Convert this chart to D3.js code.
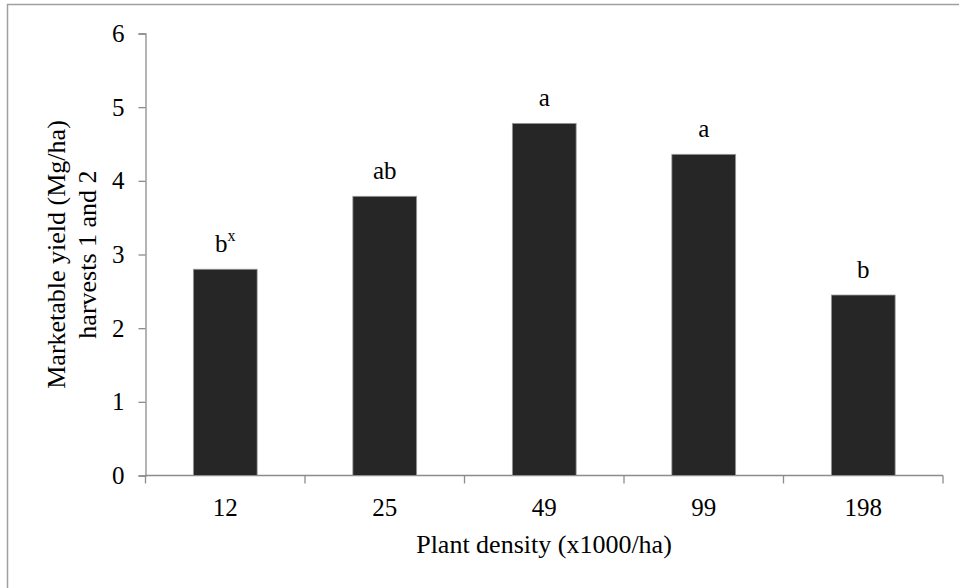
<!DOCTYPE html>
<html>
<head>
<meta charset="utf-8">
<script src="https://cdn.jsdelivr.net/npm/d3@7/dist/d3.min.js"></script>
<style>
  html, body { margin: 0; padding: 0; background: #fff; }
  svg { display: block; }
  text { font-family: "Liberation Serif", "Times New Roman", serif; fill: #000; }
</style>
</head>
<body>
<svg id="chart" width="959" height="588"></svg>
<script>
// Plant density treatments (x1000 plants/ha)
const densities = ["12", "25", "49", "99", "198"];
// Marketable yield, harvests 1 and 2 (Mg/ha)
const yields = [2.80, 3.79, 4.78, 4.36, 2.45];
// Mean separation letters
const letters = ["b", "ab", "a", "a", "b"];
const letterSup = ["x", "", "", "", ""];
const yTicks = [0, 1, 2, 3, 4, 5, 6];

const svg = d3.select("#chart");
const tickFont = 25;
const titleFont = 26;
const axisColor = "#8c8c8c";

// outer frame
svg.append("rect")
  .attr("x", 7.5).attr("y", 4.5)
  .attr("width", 1000).attr("height", 1000)
  .attr("fill", "none").attr("stroke", "#a0a0a0").attr("stroke-width", 1.5);

const x = d3.scaleBand()
  .domain(densities)
  .range([145.5, 943])
  .paddingInner(0.6)
  .paddingOuter(0.3);

const y = d3.scaleLinear().domain([0, 6]).range([475.5, 33.5]);

// y axis
const yAxis = svg.append("g")
  .attr("transform", "translate(145.5,0)")
  .call(d3.axisLeft(y).tickValues(yTicks).tickFormat(d3.format("d")).tickSize(7).tickPadding(14));
yAxis.select(".domain").attr("stroke", axisColor).attr("stroke-width", 1.3);
yAxis.selectAll(".tick line").attr("stroke", axisColor).attr("stroke-width", 1.3);
yAxis.selectAll(".tick text")
  .attr("font-size", tickFont)
  .attr("font-family", "Liberation Serif")
  .attr("fill", "#000");

// x axis with ticks at category boundaries
const xAxisG = svg.append("g").attr("transform", "translate(0,475.5)");
xAxisG.append("line")
  .attr("x1", x.range()[0]).attr("x2", x.range()[1])
  .attr("stroke", axisColor).attr("stroke-width", 1.3);
const step = x.step();
const bounds = d3.range(densities.length + 1).map(i => x(densities[0]) - x.paddingOuter() * step + i * step);
xAxisG.selectAll("line.tk")
  .data(bounds).join("line").attr("class", "tk")
  .attr("x1", d => d).attr("x2", d => d)
  .attr("y1", 0).attr("y2", 8)
  .attr("stroke", axisColor).attr("stroke-width", 1.3);
xAxisG.selectAll("text.lbl")
  .data(densities).join("text").attr("class", "lbl")
  .attr("x", d => x(d) + x.bandwidth() / 2)
  .attr("y", 40)
  .attr("text-anchor", "middle")
  .attr("font-size", tickFont)
  .text(d => d);

// bars
svg.append("g").selectAll("rect")
  .data(densities).join("rect")
  .attr("x", d => x(d))
  .attr("y", (d, i) => y(yields[i]))
  .attr("width", x.bandwidth())
  .attr("height", (d, i) => y(0) - y(yields[i]))
  .attr("fill", "#262626")
  .attr("stroke", "#9a9a9a")
  .attr("stroke-width", 0.8);

// separation letters above bars
const lbl = svg.append("g").selectAll("text")
  .data(densities).join("text")
  .attr("x", d => x(d) + x.bandwidth() / 2)
  .attr("y", (d, i) => y(yields[i]) - 17)
  .attr("text-anchor", "middle")
  .attr("font-size", tickFont);
lbl.append("tspan").text((d, i) => letters[i]);
lbl.append("tspan")
  .attr("font-size", 16)
  .attr("dy", -11)
  .text((d, i) => letterSup[i]);

// axis titles
svg.append("text")
  .attr("x", 544).attr("y", 553)
  .attr("text-anchor", "middle")
  .attr("font-size", titleFont)
  .text("Plant density (x1000/ha)");

const yTitle = svg.append("text")
  .attr("transform", "translate(65,254.5) rotate(-90)")
  .attr("text-anchor", "middle")
  .attr("font-size", titleFont);
yTitle.append("tspan").attr("x", 0).attr("y", 0).text("Marketable yield (Mg/ha)");
yTitle.append("tspan").attr("x", 0).attr("y", 31).text("harvests 1 and 2");
</script>
</body>
</html>
